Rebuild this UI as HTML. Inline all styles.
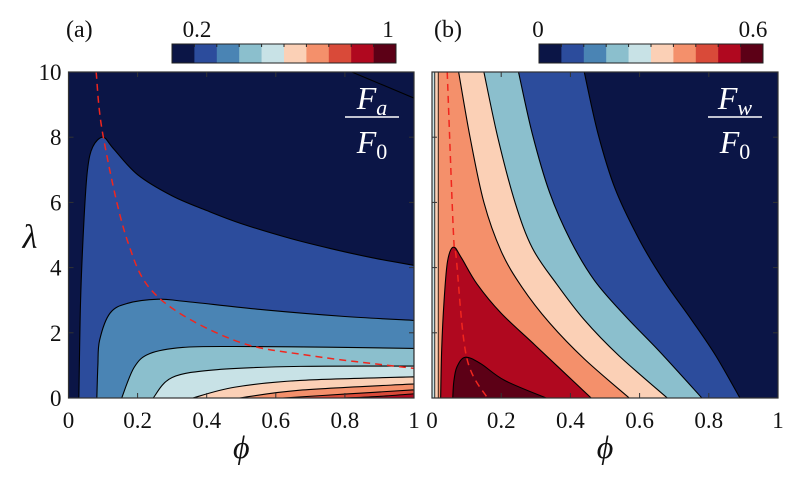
<!DOCTYPE html>
<html><head><meta charset="utf-8">
<style>
html,body{margin:0;padding:0;background:#fff;}
svg, svg text{font-family:"Liberation Serif","Times New Roman","DejaVu Serif",serif !important;}
</style></head>
<body>
<svg id="fig" width="800" height="476" viewBox="0 0 800 476" xmlns="http://www.w3.org/2000/svg">
<g id="pa"></g>
<g id="pb"></g>
</svg>
<script>
const cmap = ["#0b1546","#2c4c9c","#4a84b4","#8bbfcd","#c8e2e6","#fbd0b6","#f4906b","#d94a39","#b0081f","#5c0016"];
const xTicks = [0,0.2,0.4,0.6,0.8,1];
const xTickLabels = ["0","0.2","0.4","0.6","0.8","1"];
const yTicks = [0,2,4,6,8,10];
const yTickLabels = ["0","2","4","6","8","10"];

// Panel (a) contour boundaries [phi, lambda]
const aLevels = [1,2,3,4,5,6,7,8];
const aB1 = [[0.03,0],[0.035,3],[0.045,5.5],[0.055,7],[0.07,7.7],[0.1,8],[0.13,7.65],[0.2,6.85],[0.3,6.2],[0.4,5.75],[0.5,5.35],[0.64,4.9],[0.76,4.58],[0.88,4.3],[1,4.07]];
const aB2 = [[0.082,0],[0.085,1],[0.09,1.77],[0.12,2.6],[0.17,2.9],[0.26,3.03],[0.34,2.96],[0.57,2.7],[0.8,2.5],[1,2.38]];
const aB3 = [[0.154,0],[0.19,0.94],[0.235,1.36],[0.33,1.55],[0.48,1.58],[0.75,1.56],[1,1.52]];
const aB4 = [[0.245,0],[0.3,0.63],[0.43,0.87],[0.67,0.97],[1,0.98]];
const aB5 = [[0.36,0],[0.48,0.33],[0.67,0.54],[1,0.65]];
const aB6 = [[0.495,0],[0.67,0.24],[1,0.43]];
const aB7 = [[0.62,0],[0.8,0.12],[1,0.25]];
const aB8 = [[0.8,0],[0.9,0.05],[1,0.13]];
const aBounds = [aB1,aB2,aB3,aB4,aB5,aB6,aB7,aB8];
const aCorner = [[0.82,10],[1,9.2]];
const aRidge = [[0.08,10],[0.1,8.05],[0.17,4.84],[0.26,3.09],[0.48,1.77],[0.7,1.3],[1,0.91]];

// Panel (b)
const bLevels = [1,3,5,6,8,9];
const bB1 = [[0.44,10],[0.48,8.1],[0.53,6.4],[0.6,4.84],[0.67,3.6],[0.75,2.4],[0.82,1.3],[0.89,0]];
const bB2 = [[0.25,10],[0.29,8.1],[0.34,6.3],[0.40,4.84],[0.47,3.6],[0.56,2.5],[0.66,1.4],[0.78,0]];
const bB3 = [[0.15,10],[0.19,8],[0.24,6],[0.29,4.6],[0.36,3.5],[0.44,2.4],[0.54,1.3],[0.68,0]];
const bB4 = [[0.077,10],[0.11,8],[0.15,6],[0.2,4.5],[0.26,3.4],[0.34,2.3],[0.44,1.2],[0.57,0]];
const bB5 = [[0.025,0],[0.028,1.5],[0.035,3],[0.045,4.2],[0.062,4.63],[0.085,4.3],[0.13,3.5],[0.2,2.6],[0.3,1.6],[0.46,0]];
const bB6 = [[0.06,0],[0.063,0.5],[0.072,0.95],[0.096,1.25],[0.14,1.06],[0.21,0.54],[0.33,0]];
const bBounds = [bB1,bB2,bB3,bB4,bB5,bB6];
const bStrips = [[0.008,4],[0.018,5]];
const bRidge = [[0.044,10],[0.062,5.05],[0.07,4.3],[0.1,1.25],[0.16,0]];

const NS="http://www.w3.org/2000/svg";
function mk(tag,attrs,parent){const e=document.createElementNS(NS,tag);for(const k in attrs)e.setAttribute(k,attrs[k]);if(tag==="text")e.style.fontFamily='"Liberation Serif","Times New Roman",serif';parent.appendChild(e);return e;}
function spline(pts){
  let d="M"+pts[0][0].toFixed(2)+","+pts[0][1].toFixed(2);
  for(let i=0;i<pts.length-1;i++){
    const p0=pts[Math.max(0,i-1)],p1=pts[i],p2=pts[i+1],p3=pts[Math.min(pts.length-1,i+2)];
    const c1=[p1[0]+(p2[0]-p0[0])/6,p1[1]+(p2[1]-p0[1])/6];
    const c2=[p2[0]-(p3[0]-p1[0])/6,p2[1]-(p3[1]-p1[1])/6];
    d+=" C"+c1[0].toFixed(2)+","+c1[1].toFixed(2)+" "+c2[0].toFixed(2)+","+c2[1].toFixed(2)+" "+p2[0].toFixed(2)+","+p2[1].toFixed(2);
  }
  return d;
}
function panel(g,x0,x1,y0,y1,opts){
  const sx=v=>x0+(x1-x0)*v, sy=v=>y0-(y0-y1)*v/10;
  const clipId="clip"+opts.id;
  const defs=mk("defs",{},g);
  const cp=mk("clipPath",{id:clipId},defs);
  mk("rect",{x:x0,y:y1,width:x1-x0,height:y0-y1},cp);
  const plot=mk("g",{"clip-path":"url(#"+clipId+")"},g);
  
  
  mk("rect",{x:x0,y:y1,width:x1-x0,height:y0-y1,fill:cmap[0]},plot);
  opts.bounds.forEach((b,i)=>{
    const pts=b.map(p=>[sx(p[0]),sy(p[1])]);
    let d=spline(pts);
    if(opts.side==="right"){d+=" L"+sx(1)+","+sy(0)+" Z";}
    else if(b[0][1]===0){d+=" Z";}
    else{d+=" L"+sx(0)+","+sy(0)+" L"+sx(0)+","+sy(10)+" Z";}
    const r=mk("path",{d:d,fill:cmap[opts.levels[i]],stroke:"#000","stroke-width":1.1},plot);
    
    
  });
  if(opts.strips){
    for(let i=opts.strips.length-1;i>=0;i--){
      const s=opts.strips[i];
      const r=mk("rect",{x:sx(0),y:y1,width:sx(s[0])-sx(0),height:y0-y1,fill:cmap[s[1]],stroke:"#000","stroke-width":0.8},plot);
      
      
    }
  }
  if(opts.corner){
    const c=mk("path",{d:spline(opts.corner.map(p=>[sx(p[0]),sy(p[1])])),fill:"none",stroke:"#000","stroke-width":1.1},plot);
    
    
  }
  const rl=mk("path",{d:spline(opts.ridge.map(p=>[sx(p[0]),sy(p[1])])),fill:"none",stroke:"#f0261e","stroke-width":1.5,"stroke-dasharray":"7,5"},plot);
  
  
  const fr=mk("rect",{x:x0,y:y1,width:x1-x0,height:y0-y1,fill:"none",stroke:"#333","stroke-width":1.2},g);
  
  
  xTicks.forEach((t,i)=>{
    mk("line",{x1:sx(t),x2:sx(t),y1:y0,y2:y0-5,stroke:"#333","stroke-width":1},g);
    mk("line",{x1:sx(t),x2:sx(t),y1:y1,y2:y1+5,stroke:"#333","stroke-width":1},g);
    const tx=mk("text",{x:sx(t),y:y0+30,"text-anchor":"middle","font-size":23,fill:"#111"},g);
    tx.textContent=xTickLabels[i];
    
    
  });
  yTicks.forEach((t,i)=>{
    mk("line",{x1:x0,x2:x0+5,y1:sy(t),y2:sy(t),stroke:"#333","stroke-width":1},g);
    mk("line",{x1:x1,x2:x1-5,y1:sy(t),y2:sy(t),stroke:"#333","stroke-width":1},g);
    if(opts.ylabels){
      const ty=mk("text",{x:x0-7,y:sy(t)+8,"text-anchor":"end","font-size":23,fill:"#111"},g);
      ty.textContent=yTickLabels[i];
      
      
    }
  });
  const xl=mk("text",{x:(x0+x1)/2,y:y0+60,"text-anchor":"middle","font-size":32,"font-style":"italic",fill:"#111"},g);
  xl.textContent="ϕ";
  
  
  const cb=opts.cb, w=(cb[1]-cb[0])/10;
  const cbg=mk("g",{},g);
  
  
  cmap.forEach((c,i)=>mk("rect",{x:cb[0]+i*w,y:44,width:w+0.3,height:19,fill:c},cbg));
  mk("rect",{x:cb[0],y:44,width:cb[1]-cb[0],height:19,fill:"none",stroke:"#222","stroke-width":1},cbg);
  for(let i=1;i<10;i++) mk("line",{x1:cb[0]+i*w,x2:cb[0]+i*w,y1:44,y2:47,stroke:"#222","stroke-width":1},cbg);
  opts.cbLabels.forEach(l=>{const t=mk("text",{x:l[0],y:37,"text-anchor":"middle","font-size":23,fill:"#111"},cbg);t.textContent=l[1];});
  const pl=mk("text",{x:opts.tag[0],y:37,"font-size":24,fill:"#111"},g);
  pl.textContent=opts.tag[1];
  
  
  const fx=opts.frac[0];
  const fg=mk("g",{fill:"#fff"},g);
  
  
  const n=mk("text",{x:fx,y:109,"text-anchor":"middle","font-size":32,"font-style":"italic"},fg);
  n.innerHTML='F<tspan font-size="22" dy="6">'+opts.frac[1]+'</tspan>';
  mk("line",{x1:fx-27,x2:fx+27,y1:117,y2:117,stroke:"#fff","stroke-width":1.5},fg);
  const dd=mk("text",{x:fx,y:153,"text-anchor":"middle","font-size":32,"font-style":"italic"},fg);
  dd.innerHTML='F<tspan font-size="22" font-style="normal" dy="6">0</tspan>';
}
panel(document.getElementById("pa"),68.5,414,398,72,{id:"panel-a",bounds:aBounds,levels:aLevels,side:"right",corner:aCorner,ridge:aRidge,ylabels:true,cb:[172,396],cbLabels:[[197,"0.2"],[388,"1"]],tag:[66,"(a)"],frac:[372,"a"]});
panel(document.getElementById("pb"),432,778,398,72,{id:"panel-b",bounds:bBounds,levels:bLevels,side:"left",strips:bStrips,ridge:bRidge,ylabels:false,cb:[539,763],cbLabels:[[538,"0"],[753,"0.6"]],tag:[434,"(b)"],frac:[735,"w"]});
const lam=mk("text",{x:30,y:248,"text-anchor":"middle","font-size":34,"font-style":"italic",fill:"#111"},document.getElementById("fig"));
lam.textContent="λ";


</script>
</body></html>
